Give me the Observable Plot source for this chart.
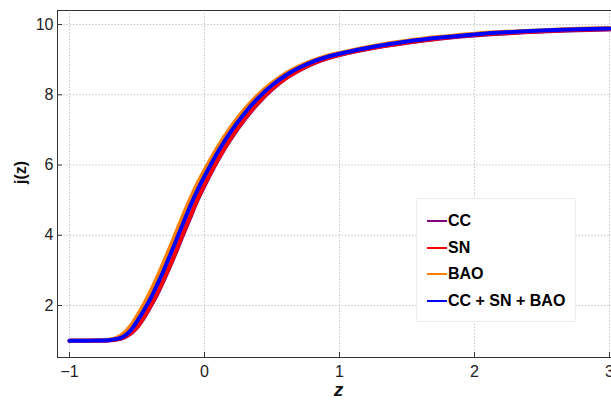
<!DOCTYPE html>
<html><head><meta charset="utf-8">
<script src="https://cdn.jsdelivr.net/npm/d3@7"></script>
<script src="https://cdn.jsdelivr.net/npm/@observablehq/plot@0.6"></script>
<style>
body{margin:0;background:#fff}
#wrap{position:relative;width:611px;height:401px;overflow:hidden;background:#fff}
#legend{position:absolute;left:416px;top:198px;width:160px;height:124px;background:#fff;border:1px solid #ececec;box-sizing:border-box;font-family:"Liberation Sans",Arial,sans-serif;font-weight:bold;font-size:16px;color:#000}
.item{position:absolute;left:10px;height:20px;display:flex;align-items:center}
.sw{width:20px;height:2px;margin-right:1px}
</style></head><body><div id="wrap"></div>
<script>
const zValues = [-1, -0.9, -0.8, -0.7, -0.65, -0.6, -0.55, -0.5, -0.45, -0.4, -0.35, -0.3, -0.25, -0.2, -0.15, -0.1, -0.05, 0, 0.1, 0.2, 0.3, 0.4, 0.5, 0.6, 0.7, 0.8, 0.9, 1.0, 1.25, 1.5, 1.75, 2.0, 2.5, 3.0];
const jCC  = [1.00, 1.00, 1.00, 1.01, 1.03, 1.08, 1.19, 1.37, 1.64, 1.97, 2.32, 2.73, 3.16, 3.62, 4.09, 4.55, 5.01, 5.41, 6.14, 6.77, 7.31, 7.77, 8.15, 8.46, 8.69, 8.88, 9.02, 9.13, 9.33, 9.48, 9.60, 9.69, 9.80, 9.86];
const jSN  = [1.00, 1.00, 1.00, 1.01, 1.035, 1.09, 1.20, 1.39, 1.67, 2.00, 2.36, 2.77, 3.20, 3.67, 4.14, 4.60, 5.05, 5.45, 6.17, 6.80, 7.34, 7.79, 8.17, 8.47, 8.70, 8.89, 9.03, 9.14, 9.34, 9.49, 9.61, 9.70, 9.81, 9.87];
const jBAO = [1.00, 1.00, 1.008, 1.03, 1.08, 1.20, 1.41, 1.70, 2.03, 2.40, 2.81, 3.25, 3.71, 4.18, 4.65, 5.09, 5.49, 5.85, 6.53, 7.11, 7.60, 8.01, 8.34, 8.61, 8.81, 8.97, 9.10, 9.19, 9.39, 9.54, 9.65, 9.74, 9.84, 9.90];
const jAll = [1.00, 1.00, 1.005, 1.02, 1.05, 1.12, 1.28, 1.55, 1.86, 2.20, 2.60, 3.02, 3.48, 3.95, 4.42, 4.88, 5.30, 5.68, 6.38, 6.98, 7.49, 7.92, 8.27, 8.55, 8.77, 8.94, 9.07, 9.17, 9.37, 9.52, 9.63, 9.72, 9.83, 9.89];
const seriesNames = ["CC", "SN", "BAO", "CC + SN + BAO"];
const seriesColors = ["#800080", "#ff0000", "#ff8000", "#0000ff"];
const xTicks = [-1, 0, 1, 2, 3];
const yTicks = [2, 4, 6, 8, 10];

const seriesValues = [jCC, jSN, jBAO, jAll];
const rows = [];
seriesNames.forEach((name, i) => zValues.forEach((z, k) => rows.push({z, j: seriesValues[i][k], series: name})));

const chart = Plot.plot({
  width: 611, height: 401,
  marginLeft: 57, marginTop: 10, marginRight: 0, marginBottom: 44,
  style: {fontFamily: "'Liberation Sans', Arial, sans-serif", fontSize: "16px", color: "#222", background: "#fff"},
  x: {domain: [-1.089, 3.015]},
  y: {domain: [0.52, 10.4]},
  color: {domain: seriesNames, range: seriesColors},
  marks: [
    Plot.gridX(xTicks, {stroke: "#b8b8b8", strokeOpacity: 1, strokeDasharray: "1.2,2"}),
    Plot.gridY(yTicks, {stroke: "#b8b8b8", strokeOpacity: 1, strokeDasharray: "1.2,2"}),
    Plot.line(rows, {x: "z", y: "j", z: "series", stroke: "series", strokeWidth: 4, curve: "catmull-rom"}),
    Plot.frame({stroke: "#333"}),
    Plot.axisX(xTicks, {tickSize: 5, dy: -5, tickFormat: () => "", label: null, stroke: "#333"}),
    Plot.axisX(xTicks, {tickSize: 0, tickPadding: 8, tickFormat: "d", label: null, fill: "#222"}),
    Plot.axisY(yTicks, {tickSize: 5, dx: 5, tickFormat: () => "", label: null, stroke: "#333"}),
    Plot.axisY(yTicks, {tickSize: 0, tickPadding: 4, tickFormat: "d", label: null, fill: "#222"}),
    Plot.text(["z"], {frameAnchor: "bottom", dy: 38, dx: 4, fontWeight: "bold", fontStyle: "italic", fontSize: 19, fill: "#111"}),
    Plot.text(["j(z)"], {frameAnchor: "left", dx: -37, rotate: -90, fontWeight: "bold", fontSize: 16, fill: "#111"})
  ]
});
const wrap = document.getElementById("wrap");
wrap.appendChild(chart);
const legend = document.createElement("div");
legend.id = "legend";
seriesNames.forEach((name, i) => {
  const it = document.createElement("div");
  it.className = "item";
  it.style.top = (12 + i * 26.67) + "px";
  it.innerHTML = `<span class="sw" style="background:${seriesColors[i]}"></span><span>${name}</span>`;
  legend.appendChild(it);
});
wrap.appendChild(legend);
</script></body></html>
